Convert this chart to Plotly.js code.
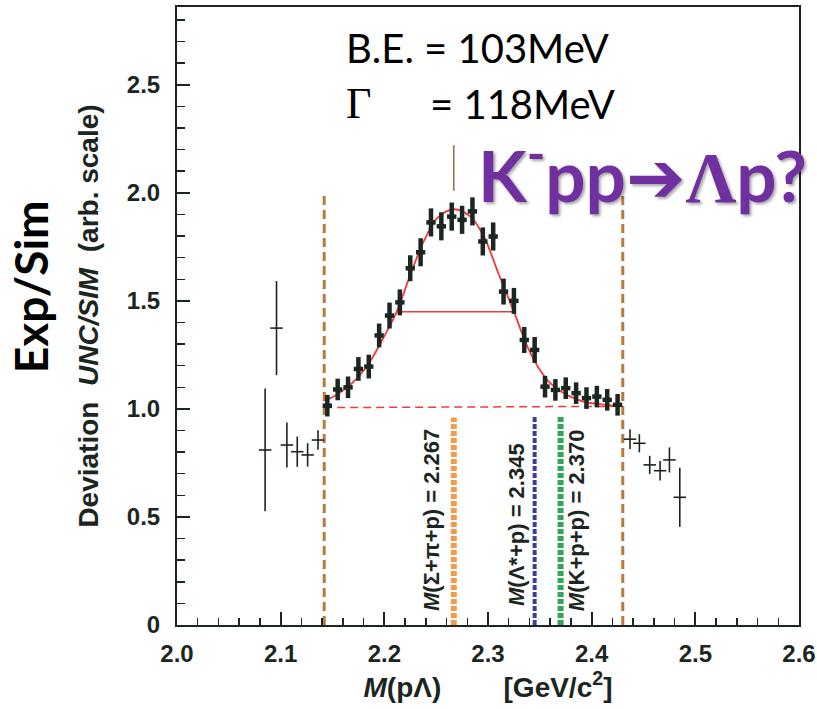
<!DOCTYPE html>
<html>
<head>
<meta charset="utf-8">
<script src="https://cdn.plot.ly/plotly-3.0.1.min.js"></script>
<style>html,body{margin:0;padding:0;background:#fff;}#chart{width:817px;height:709px;}</style>
</head>
<body>
<div id="chart"></div>
<script>
// ---- data ----
const binX = [2.145,2.155,2.165,2.175,2.185,2.195,2.205,2.215,2.225,2.235,2.245,2.255,2.265,2.275,2.285,2.295,2.305,2.315,2.325,2.335,2.345,2.355,2.365,2.375,2.385,2.395,2.405,2.415,2.425];
const ratioY = [1.015,1.09,1.10,1.185,1.196,1.34,1.432,1.493,1.651,1.725,1.863,1.845,1.89,1.875,1.914,1.775,1.798,1.543,1.50,1.319,1.273,1.103,1.088,1.096,1.073,1.050,1.057,1.042,1.019];
const ratioErr = [0.05,0.05,0.05,0.055,0.055,0.055,0.06,0.06,0.06,0.065,0.065,0.065,0.065,0.065,0.065,0.065,0.065,0.06,0.06,0.06,0.06,0.05,0.05,0.05,0.05,0.05,0.05,0.05,0.05];
const binHalf = 0.0045;

const outX = [2.085,2.096,2.106,2.116,2.126,2.136,2.437,2.446,2.456,2.466,2.475,2.485];
const outY = [0.81,1.374,0.833,0.802,0.787,0.856,0.86,0.841,0.741,0.714,0.764,0.591];
const outErr = [0.284,0.218,0.104,0.07,0.054,0.045,0.046,0.042,0.042,0.045,0.058,0.137];
const outHalf = 0.006;

const fitX = [2.142,2.146,2.167,2.183,2.198,2.212,2.225,2.238,2.251,2.267,2.283,2.296,2.310,2.325,2.338,2.350,2.360,2.376,2.392,2.408,2.424,2.430];
const fitY = [1.040,1.045,1.111,1.196,1.319,1.450,1.620,1.775,1.883,1.924,1.890,1.798,1.628,1.450,1.288,1.181,1.119,1.065,1.034,1.022,1.014,1.012];
const fwhmX = [2.212,2.325];
const fwhmY = [1.45,1.45];
const baseX = [2.142,2.430];
const baseY = [1.006,1.012];

const cutX = [2.142,2.430];
const cutTop = 2.0;
const peakMarkX = 2.267;
const peakMarkY = [2.01,2.22];

const thrNames = ['<i>M</i>(Σ+π+p) = 2.267','<i>M</i>(Λ*+p) = 2.345','<i>M</i>(K+p+p) = 2.370'];
const thrX = [2.267,2.345,2.370];
const thrTop = [0.96,0.967,0.967];

const xTicks = [2.0,2.1,2.2,2.3,2.4,2.5,2.6];
const xTickText = ['2.0','2.1','2.2','2.3','2.4','2.5','2.6'];
const yTicks = [0,0.5,1.0,1.5,2.0,2.5];
const yTickText = ['0','0.5','1.0','1.5','2.0','2.5'];

// ---- styles ----
const ink = '#1b2621';
const red = '#f23a3a';
const brown = '#b97a3f';
const thrColors = ['#f59a4a','#3b3f9c','#2fa855'];
const thrWidths = [6,4,6];

const traces = [];
cutX.forEach(cx => traces.push({x:[cx,cx], y:[0,cutTop], mode:'lines', line:{color:brown,width:3,dash:'9px,5px'}, hoverinfo:'skip', showlegend:false}));
traces.push({x:[peakMarkX,peakMarkX], y:peakMarkY, mode:'lines', line:{color:'#9a6a3a',width:1.5}, showlegend:false});
thrX.forEach((tx,i) => traces.push({x:[tx,tx], y:[0,thrTop[i]], mode:'lines', line:{color:thrColors[i],width:thrWidths[i],dash:'5px,2px'}, showlegend:false}));
traces.push({x:baseX, y:baseY, mode:'lines', line:{color:red,width:1.5,dash:'8px,5px'}, showlegend:false});
traces.push({x:fitX, y:fitY, mode:'lines', line:{color:red,width:1.8,shape:'spline',smoothing:1}, showlegend:false});
traces.push({x:fwhmX, y:fwhmY, mode:'lines', line:{color:red,width:1.5}, showlegend:false});
traces.push({x:outX, y:outY, mode:'markers', marker:{size:1,color:ink},
  error_y:{type:'data', array:outErr, visible:true, color:ink, thickness:1.6, width:0},
  error_x:{type:'constant', value:outHalf, visible:true, color:ink, thickness:1.6, width:0}, showlegend:false});
traces.push({x:binX, y:ratioY, mode:'markers', marker:{size:1,color:ink},
  error_y:{type:'data', array:ratioErr, visible:true, color:ink, thickness:4.5, width:0},
  error_x:{type:'constant', value:binHalf, visible:true, color:ink, thickness:4.5, width:0}, showlegend:false});

const tickFont = {family:'Liberation Sans, Arial, sans-serif', size:24, color:ink, weight:'bold'};
const annotations = [
  {xref:'paper', yref:'paper', x:-0.235, y:0.548, text:'Exp/Sim', textangle:-90, showarrow:false,
   font:{family:'Lato, sans-serif', size:46, color:'#000', weight:'bold'}, xanchor:'center', yanchor:'middle'},
  {x:2.161, y:2.671, text:'B.E. = 103MeV', showarrow:false, xanchor:'left', yanchor:'middle',
   font:{family:'Lato, sans-serif', size:40, color:'#000'}},
  {x:2.161, y:2.412, text:'Γ', showarrow:false, xanchor:'left', yanchor:'middle',
   font:{family:'Liberation Serif, serif', size:44, color:'#000'}},
  {x:2.2423, y:2.412, text:'= 118MeV', showarrow:false, xanchor:'left', yanchor:'middle',
   font:{family:'Lato, sans-serif', size:40, color:'#000'}},
  {x:2.2886, y:2.10, text:'K<sup>-</sup>pp<span style="font-family:DejaVu Sans">➔</span><span style="font-family:Liberation Serif">Λ</span>p?', showarrow:false, xanchor:'left', yanchor:'middle',
   font:{family:'Lato, sans-serif', size:71, color:'#7030a0', weight:'bold', shadow:'2px 2px 3px rgba(0,0,0,0.35)'}}
];
const thrLabelX = [2.246,2.328,2.386];
const thrLabelY = [0.486,0.463,0.486];
thrNames.forEach((t,i) => annotations.push({x:thrLabelX[i], y:thrLabelY[i], text:t, textangle:-90, showarrow:false,
  xanchor:'center', yanchor:'middle', font:{family:'Liberation Sans, Arial, sans-serif', size:22, color:ink, weight:'bold'}}));

const layout = {
  width:817, height:709,
  margin:{l:177, r:18, t:7, b:84},
  paper_bgcolor:'#fff', plot_bgcolor:'#fff',
  showlegend:false,
  xaxis:{range:[2.0,2.6], tickvals:xTicks, ticktext:xTickText, ticks:'inside', ticklen:13, tickwidth:2, tickcolor:ink,
    minor:{dtick:0.02, tick0:2.0, ticks:'inside', ticklen:7, tickwidth:1.5, tickcolor:ink, showgrid:false},
    showline:true, mirror:true, linecolor:ink, linewidth:2, showgrid:false, zeroline:false,
    tickfont:tickFont, ticklabelstandoff:6,
    title:{text:'<i>M</i>(pΛ)        [GeV/c<sup>2</sup>]', standoff:10, font:{family:'Liberation Sans, Arial, sans-serif', size:28, color:ink, weight:'bold'}}},
  yaxis:{range:[0,2.86], tickvals:yTicks, ticktext:yTickText, ticks:'inside', ticklen:13, tickwidth:2, tickcolor:ink,
    minor:{dtick:0.1, tick0:0, ticks:'inside', ticklen:8, tickwidth:1.5, tickcolor:ink, showgrid:false},
    showline:true, mirror:true, linecolor:ink, linewidth:2, showgrid:false, zeroline:false,
    tickfont:tickFont, ticklabelstandoff:10,
    title:{text:'Deviation  <i>UNC/SIM</i>  (arb. scale)', standoff:20, font:{family:'Liberation Sans, Arial, sans-serif', size:28, color:ink, weight:'bold'}}},
  annotations:annotations
};
Plotly.newPlot('chart', traces, layout, {displayModeBar:false, staticPlot:true});
</script>
</body>
</html>
